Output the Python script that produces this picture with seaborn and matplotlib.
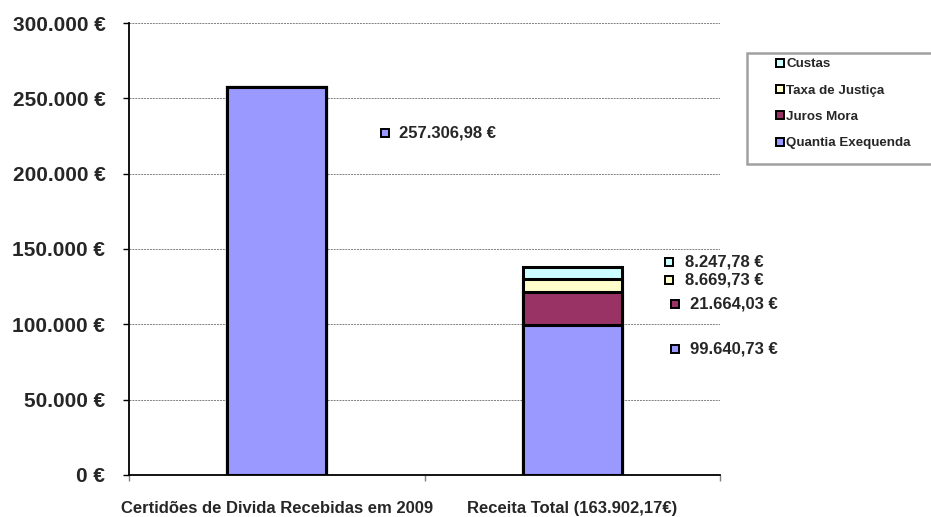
import numpy as np
import pandas as pd
import matplotlib
matplotlib.use("Agg")
import matplotlib.pyplot as plt
import seaborn as sns
from matplotlib.ticker import FuncFormatter, FixedLocator
from matplotlib.patches import Rectangle
from matplotlib.lines import Line2D

# ---- data ----
categories = ["Certidões de Divida Recebidas em 2009", "Receita Total (163.902,17€)"]
series_names = ["Quantia Exequenda", "Juros Mora", "Taxa de Justiça", "Custas"]
quantia = [257306.98, 99640.73]
juros = [0.0, 21664.03]
taxa = [0.0, 8669.73]
custas = [0.0, 8247.78]
y_ticks = [0, 50000, 100000, 150000, 200000, 250000, 300000]

colors = ["#9999FF", "#993366", "#FFFFCC", "#CCFFFF"]

# data label placements: (category, series, label y, marker x, text x)
label_specs = [
    (0, 0, 227000, 0.366, 0.415),
    (1, 3, 141400, 1.327, 1.383),
    (1, 2, 129400, 1.327, 1.383),
    (1, 1, 113500, 1.348, 1.398),
    (1, 0, 83600, 1.348, 1.398),
]

sns.set_style("white")
plt.rcParams["font.family"] = ["Liberation Sans", "DejaVu Sans"]
plt.rcParams["font.weight"] = "bold"

series_vals = [quantia, juros, taxa, custas]
df = pd.DataFrame({"categoria": categories})
for name, vals in zip(series_names, series_vals):
    df[name] = vals
cum = df[series_names].cumsum(axis=1)

fig = plt.figure(figsize=(9.31, 5.17), dpi=100)
ax = fig.add_axes([129 / 931, 42 / 517, (720 - 129) / 931, (475 - 23) / 517])

# draw from the top of the stack down so each segment overlays the previous
for i in reversed(range(len(series_names))):
    sns.barplot(x=df["categoria"], y=cum[series_names[i]], color=colors[i],
                width=0.335, edgecolor="black", linewidth=2.2, saturation=1,
                ax=ax, zorder=3)

ax.set_xlim(-0.5, 1.5)
ax.set_ylim(0, 300000)
ax.yaxis.set_major_locator(FixedLocator(y_ticks))
ax.yaxis.set_major_formatter(FuncFormatter(lambda v, p: f"{int(v):,}".replace(",", ".") + " €"))
ax.grid(axis="y", color="#808080", linestyle=(0, (2, 1)), linewidth=0.7, zorder=0)
ax.grid(axis="x", visible=False)
ax.set_xlabel("")
ax.set_ylabel("")

for s in ["top", "right"]:
    ax.spines[s].set_visible(False)
ax.spines["left"].set_color("black")
ax.spines["left"].set_linewidth(1.3)
ax.spines["bottom"].set_color("black")
ax.spines["bottom"].set_linewidth(1.3)
ax.spines["left"].set_zorder(4)

ax.tick_params(axis="y", which="major", left=True, length=4, width=1, color="black",
               labelsize=15, pad=13)
ax.tick_params(axis="x", which="major", bottom=False, length=0, labelsize=12, pad=19)
ax.set_xticks([-0.5, 0.5, 1.5], minor=True)
ax.tick_params(axis="x", which="minor", bottom=True, length=4, width=1, color="#808080")
for lab in ax.get_xticklabels() + ax.get_yticklabels():
    lab.set_fontweight("bold")


def fmt(v):
    s = f"{v:,.2f}"
    return s.replace(",", "X").replace(".", ",").replace("X", ".") + " €"


for cat, si, ly, mx, tx in label_specs:
    ax.plot([mx], [ly], marker="s", markersize=6.2, markerfacecolor=colors[si],
            markeredgecolor="black", markeredgewidth=1.4, linestyle="none",
            zorder=5, clip_on=False)
    ax.text(tx, ly, fmt(series_vals[si][cat]), fontsize=12, fontweight="bold",
            va="center", ha="left", zorder=5, clip_on=False)

# legend box (reversed order like the original), running off the right edge
fig.patches.append(Rectangle((747 / 931, 1 - 164 / 517), (960 - 747) / 931, (164 - 53) / 517,
                             transform=fig.transFigure, facecolor="white",
                             edgecolor="#a0a0a0", linewidth=1.8, zorder=1))
handles = [Line2D([0], [0], marker="s", linestyle="none", markersize=5.8,
                  markerfacecolor=colors[i], markeredgecolor="black", markeredgewidth=1.4)
           for i in reversed(range(len(series_names)))]
labels = [series_names[i] for i in reversed(range(len(series_names)))]
leg = fig.legend(handles, labels, loc="upper left", bbox_to_anchor=(776 / 931, 1 - 58 / 517),
                 frameon=False, prop={"weight": "bold", "size": 9.6},
                 handlelength=0.65, handletextpad=0.12, labelspacing=1.05,
                 borderpad=0.0, borderaxespad=0.0)

fig.savefig("out.png", dpi=100)
